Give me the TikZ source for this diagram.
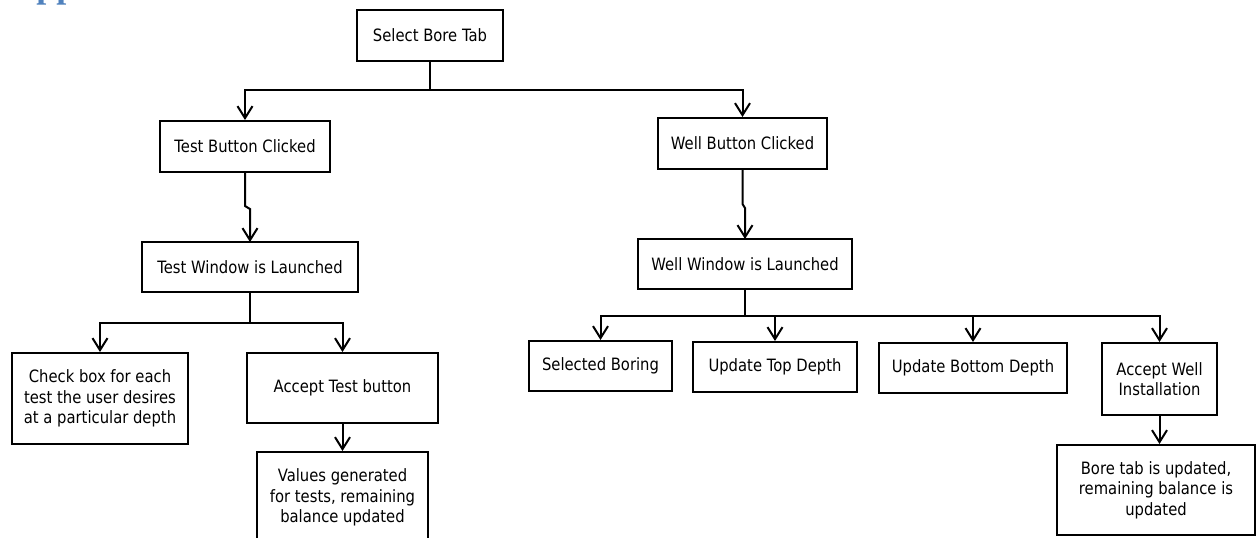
\documentclass[tikz,border=0pt]{standalone}
\usepackage{fontspec}
\setmainfont{DejaVu Sans}[FakeStretch=0.87]
\newfontfamily\headfont{Liberation Serif}
\usetikzlibrary{arrows.meta}
\definecolor{headblue}{HTML}{4F81BD}
\begin{document}
\begin{tikzpicture}[x=0.5pt,y=-0.5pt,
  box/.style={draw, line width=1pt, inner sep=0pt, align=center,
    font=\fontsize{8.5}{10.25}\selectfont},
  link/.style={line width=1pt, line join=miter},
  arr/.style={link, -{Straight Barb[length=6pt,width=7.5pt,line width=1pt]}}]
\useasboundingbox (0,0) rectangle (1256,537);

% heading running off the top edge
\node[anchor=base west, text=headblue, inner sep=0pt,
  font=\headfont\bfseries\fontsize{18}{20}\selectfont] (head) at (36,-3) {pp};

% boxes
\node[box, minimum width=73pt,   minimum height=25.5pt] (sel) at (430,35.5)   {Select Bore Tab};
\node[box, minimum width=85pt,   minimum height=25.5pt] (tbc) at (245,146.5)  {Test Button Clicked};
\node[box, minimum width=84.5pt, minimum height=25.5pt] (wbc) at (742.5,143.5){Well Button Clicked};
\node[box, minimum width=108pt,  minimum height=25pt]   (twl) at (250,267)    {Test Window is Launched};
\node[box, minimum width=107pt,  minimum height=25pt]   (wwl) at (745,264)    {Well Window is Launched};
\node[box, minimum width=88pt,   minimum height=45.5pt] (chk) at (100,398.5)  {Check box for each\\test the user desires\\at a particular depth};
\node[box, minimum width=95.5pt, minimum height=35pt]   (acc) at (342.5,388)  {Accept Test button};
\node[box, minimum width=85.5pt, minimum height=45.5pt] (val) at (342.5,497.5){Values generated\\for tests, remaining\\balance updated};
\node[box, minimum width=71.5pt, minimum height=25pt]   (sb)  at (600.5,366)  {Selected Boring};
\node[box, minimum width=82pt,   minimum height=25pt]   (utd) at (775,367)    {Update Top Depth};
\node[box, minimum width=94pt,   minimum height=25pt]   (ubd) at (973,368)    {Update Bottom Depth};
\node[box, minimum width=57.5pt, minimum height=36pt]   (awi) at (1159.5,379) {Accept Well\\Installation};
\node[box, minimum width=99pt,   minimum height=45pt]   (btu) at (1156,490)   {Bore tab is updated,\\remaining balance is\\updated};

% junction points
\coordinate (j1) at (430,90);
\coordinate (j2) at (250,323);
\coordinate (j3) at (745,316);
\coordinate (k1) at (250,242);
\coordinate (k2) at (745,239);

% top split
\draw[link] (sel.south) -- (j1);
\draw[arr] (j1) -| (tbc.north);
\draw[arr] (j1) -| (wbc.north);

% test branch
\draw[arr] (tbc.south) -- ++(0,33) -- ++(5,3) -- (k1);
\draw[link] (twl.south) -- (j2);
\draw[arr] (j2) -| (chk.north);
\draw[arr] (j2) -| (acc.north);
\draw[arr] (acc.south) -- (val.north);

% well branch
\draw[arr] (wbc.south) -- ++(0,34) -- ++(2.5,4) -- (k2);
\draw[link] (wwl.south) -- (j3);
\draw[arr] (j3) -| (sb.north);
\draw[arr] (j3) -| (utd.north);
\draw[arr] (j3) -| (ubd.north);
\draw[arr] (j3) -| (awi.north);
\draw[arr] (awi.south) -- (awi.south |- btu.north);
\end{tikzpicture}
\end{document}
